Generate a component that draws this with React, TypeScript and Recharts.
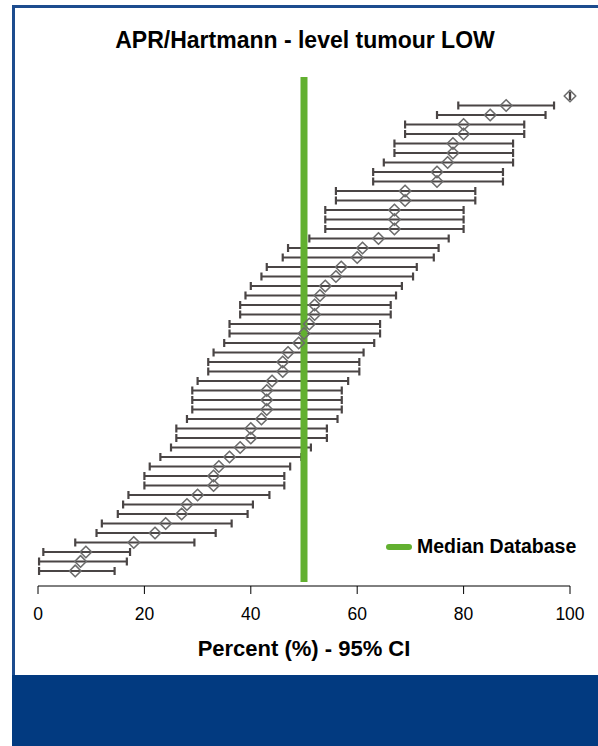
import { ScatterChart, Scatter, XAxis, YAxis, ErrorBar, ReferenceLine, Legend } from "recharts"

const TITLE = "APR/Hartmann - level tumour LOW"
const X_LABEL = "Percent (%) - 95% CI"
const MEDIAN_LABEL = "Median Database"
const X_TICKS = [0, 20, 40, 60, 80, 100]
const MEDIAN = 50

// hospitals, top row first: point estimate and 95% CI bounds
const POINT = [
  100, 88, 85, 80, 80, 78, 78, 77, 75, 75,
  69, 69, 67, 67, 67, 64, 61, 60, 57, 56,
  54, 53, 52, 52, 51, 50, 49, 47, 46, 46,
  44, 43, 43, 43, 42, 40, 40, 38, 36, 34,
  33, 33, 30, 28, 27, 24, 22, 18, 9, 8, 7,
]
const LOW = [
  100, 79, 75, 69, 69, 67, 67, 65, 63, 63,
  56, 56, 54, 54, 54, 51, 47, 46, 43, 42,
  40, 39, 38, 38, 36, 36, 35, 33, 32, 32,
  30, 29, 29, 29, 28, 26, 26, 25, 23, 21,
  20, 20, 17, 16, 15, 12, 11, 7, 1, 0.2, 0.2,
]
const HIGH = [
  100, 97, 95.4, 91.4, 91.4, 89.3, 89.3, 89.3, 87.4, 87.4,
  82.2, 82.2, 80, 80, 80, 77.2, 75.3, 74.4, 71.2, 70.5,
  68.4, 67.3, 66.3, 66.3, 64.3, 64.3, 63.2, 61.2, 60.4, 60.4,
  58.3, 57.1, 57.1, 57.1, 56.3, 54.3, 54.3, 51.3, 49.5, 47.4,
  46.3, 46.3, 43.5, 40.4, 39.4, 36.4, 33.4, 29.4, 17.3, 16.7, 14.4,
]

const GREEN = "#62b030"
const FONT = "'Liberation Sans', Arial, sans-serif"

const rows = POINT.map((p, i) => ({
  x: p,
  y: POINT.length - i,
  err: [p - LOW[i], HIGH[i] - p],
}))

function Diamond(props: any) {
  const { cx, cy } = props
  const r = 5.8
  return (
    <polygon
      points={`${cx},${cy - r} ${cx + r},${cy} ${cx},${cy + r} ${cx - r},${cy}`}
      fill="none"
      stroke="#6c6c6c"
      strokeWidth={1.6}
      strokeLinejoin="round"
    />
  )
}

function MedianLegend() {
  return (
    <div style={{ display: "flex", alignItems: "center", gap: 5, fontFamily: FONT, fontWeight: 700, fontSize: 19.5, color: "#000", whiteSpace: "nowrap" }}>
      <span style={{ display: "inline-block", width: 26, height: 6, borderRadius: 3, background: GREEN }} />
      <span>{MEDIAN_LABEL}</span>
    </div>
  )
}

export default function App() {
  return (
    <div style={{ position: "absolute", left: 0, top: 0, width: 598, height: 746, background: "#fff", overflow: "hidden" }}>
      <div style={{ position: "absolute", left: 12, top: 5, width: 590, height: 672, borderLeft: "3px solid #1c4c8e", borderTop: "3px solid #1c4c8e" }} />
      <div style={{ position: "absolute", left: 12, top: 675, width: 586, height: 71, background: "#023a80" }} />
      <div style={{ position: "absolute", left: 0, top: 27, width: 610, textAlign: "center", fontFamily: FONT, fontWeight: 700, fontSize: 23, color: "#000" }}>
        {TITLE}
      </div>
      <div style={{ position: "absolute", left: 0, top: 0 }}>
        <ScatterChart width={598} height={680} margin={{ top: 77, right: 28, left: 38, bottom: 64 }}>
          <XAxis
            type="number"
            dataKey="x"
            domain={[0, 100]}
            ticks={X_TICKS}
            height={30}
            tickSize={8}
            tickMargin={14}
            axisLine={{ stroke: "#000", strokeWidth: 1 }}
            tickLine={{ stroke: "#000", strokeWidth: 1 }}
            tick={{ fill: "#000", fontSize: 17.5, fontFamily: FONT }}
            label={{ value: X_LABEL, position: "bottom", offset: 24, fill: "#000", fontSize: 22, fontWeight: 700, fontFamily: FONT }}
          />
          <YAxis type="number" dataKey="y" domain={[-0.58, 53]} hide />
          <Scatter data={rows} shape={<Diamond />} isAnimationActive={false}>
            <ErrorBar dataKey="err" direction="x" width={4} stroke="#4a4545" strokeWidth={2.2} />
          </Scatter>
          <ReferenceLine
            segment={[{ x: MEDIAN, y: -0.16 }, { x: MEDIAN, y: 53 }]}
            stroke={GREEN}
            strokeWidth={7}
          />
          <Legend
            layout="vertical"
            align="center"
            verticalAlign="middle"
            content={<MedianLegend />}
            wrapperStyle={{ left: 386, top: 535, width: "auto" }}
          />
        </ScatterChart>
      </div>
    </div>
  )
}
